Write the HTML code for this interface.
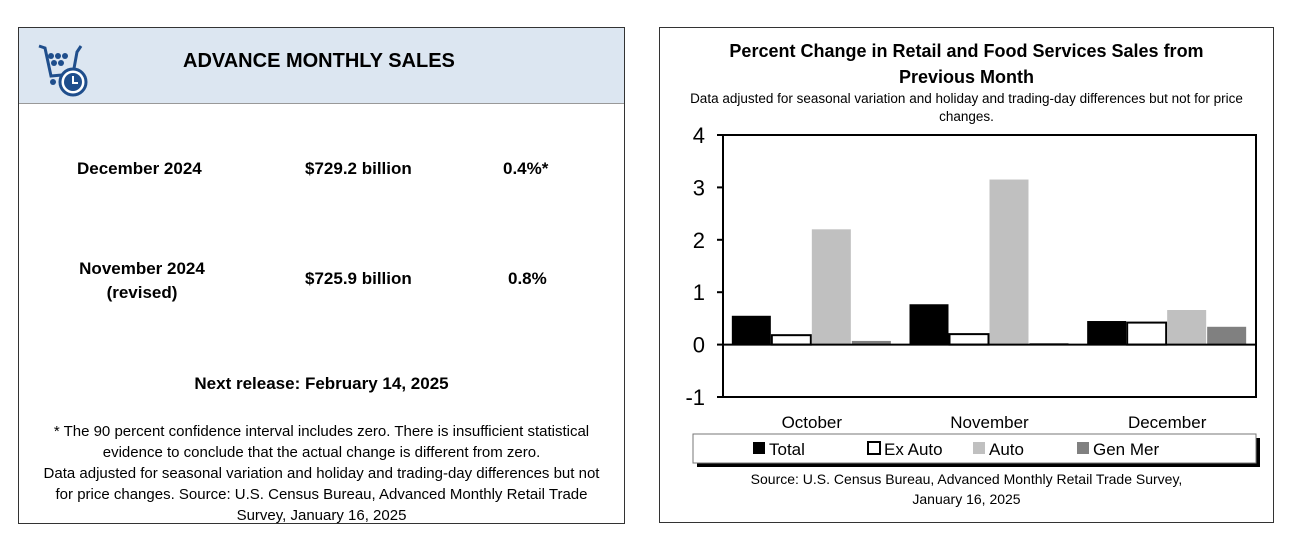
<!DOCTYPE html>
<html><head><meta charset="utf-8"><style>
body{margin:0;width:1292px;height:552px;background:#fff;font-family:"Liberation Sans",sans-serif;position:relative;overflow:hidden}
.abs{position:absolute}
.l{font-weight:bold;font-size:17px;color:#000}
.c{text-align:center}
</style></head><body>
<div class="abs" style="left:18px;top:27px;width:605px;height:495px;border:1.5px solid #333">
  <div style="position:absolute;left:0;top:0;width:605px;height:75px;background:#dce6f1;border-bottom:1.5px solid #999">
    <svg class="abs" style="left:18px;top:12px" width="52" height="58" viewBox="0 0 52 58">
      <path d="M2 6 L8 8 L14 36 L36 34 L40 12 L44 6" fill="none" stroke="#1f4e8c" stroke-width="3"/>
      <circle cx="14" cy="16" r="3" fill="#1f4e8c"/><circle cx="21" cy="16" r="3" fill="#1f4e8c"/><circle cx="28" cy="16" r="3" fill="#1f4e8c"/>
      <circle cx="17" cy="23" r="3" fill="#1f4e8c"/><circle cx="24" cy="23" r="3" fill="#1f4e8c"/>
      <circle cx="16" cy="42" r="3" fill="#1f4e8c"/>
      <circle cx="36" cy="42" r="13" fill="#fff" stroke="#1f4e8c" stroke-width="3"/>
      <circle cx="36" cy="42" r="9" fill="#1f4e8c"/>
      <path d="M36 36 V43 H41" stroke="#fff" stroke-width="2" fill="none"/>
    </svg>
    <div class="abs" style="left:164px;top:22px;font-weight:bold;font-size:20px">ADVANCE MONTHLY SALES</div>
  </div>
  <div class="abs l" style="left:58px;top:131px">December 2024</div>
  <div class="abs l" style="left:286px;top:131px">$729.2 billion</div>
  <div class="abs l" style="left:484px;top:131px">0.4%*</div>
  <div class="abs l c" style="left:48px;top:229px;width:150px;line-height:24px">November 2024<br>(revised)</div>
  <div class="abs l" style="left:286px;top:241px">$725.9 billion</div>
  <div class="abs l" style="left:489px;top:241px">0.8%</div>
  <div class="abs l c" style="left:0;width:605px;top:346px">Next release: February 14, 2025</div>
  <div class="abs c" style="left:15px;width:575px;top:393px;font-size:15px;line-height:21px">* The 90 percent confidence interval includes zero. There is insufficient statistical evidence to conclude that the actual change is different from zero.<br>Data adjusted for seasonal variation and holiday and trading-day differences but not for price changes. Source: U.S. Census Bureau, Advanced Monthly Retail Trade Survey, January 16, 2025</div>
</div>

<div class="abs" style="left:659px;top:27px;width:613px;height:494px;border:1.5px solid #333"></div>
<div class="abs c" style="left:659px;width:615px;top:38px;font-weight:bold;font-size:18px;line-height:26px">Percent Change in Retail and Food Services Sales from<br>Previous Month</div>
<div class="abs c" style="left:669px;width:595px;top:90px;font-size:13.5px;line-height:18px">Data adjusted for seasonal variation and holiday and trading-day differences but not for price changes.</div>
<div class="abs c" style="left:659px;width:615px;top:469px;font-size:14px;line-height:20px">Source: U.S. Census Bureau, Advanced Monthly Retail Trade Survey,<br>January 16, 2025</div>

<svg id="chart" class="abs" style="left:0;top:0" width="1292" height="552"></svg>
<script>
const categories=["October","November","December"];
const seriesNames=["Total","Ex Auto","Auto","Gen Mer"];
const total=[0.55,0.77,0.45];
const exAuto=[0.18,0.2,0.42];
const auto=[2.2,3.15,0.66];
const genMer=[0.07,0.03,0.34];
const yTicks=[-1,0,1,2,3,4];
const series=[total,exAuto,auto,genMer];
const fills=["#000","#fff","#c0c0c0","#808080"];
const svg=document.getElementById('chart');
const NS="http://www.w3.org/2000/svg";
const L=723,R=1256,T=135,B=397,ymin=-1,ymax=4;
const y=v=>T+(ymax-v)/(ymax-ymin)*(B-T);
const gw=(R-L)/categories.length;
function mk(tag,attrs){const e=document.createElementNS(NS,tag);for(const k in attrs)e.setAttribute(k,attrs[k]);svg.appendChild(e);return e;}
const frame=mk('rect',{x:L,y:T,width:R-L,height:B-T,fill:'none',stroke:'#000','stroke-width':2});


yTicks.forEach(t=>{
  const tk=mk('line',{x1:L-6,x2:L,y1:y(t),y2:y(t),stroke:'#000','stroke-width':2});
  
  
  const tx=mk('text',{x:L-18,y:y(t)+8,'text-anchor':'end','font-size':22,'font-family':'Liberation Sans, sans-serif'});
  tx.textContent=t;
  
  
});
const bw=40,pad=(gw-4*bw)/2;
categories.forEach((c,i)=>{
  series.forEach((s,j)=>{
    const v=s[i];const x=L+i*gw+pad+j*bw;
    const r=mk('rect',{x:x,y:Math.min(y(v),y(0)),width:bw-1,height:Math.abs(y(v)-y(0)),fill:fills[j],stroke:j==1?'#000':'none','stroke-width':2});
    
    
  });
  const tx=mk('text',{x:L+i*gw+gw/2,y:428,'text-anchor':'middle','font-size':17,'font-family':'Liberation Sans, sans-serif'});
  tx.textContent=c;
  
  
});
const zl=mk('line',{x1:L,x2:R,y1:y(0),y2:y(0),stroke:'#000','stroke-width':2});


const sh=mk('rect',{x:697,y:438,width:563,height:29,fill:'#000'});


const lg=mk('rect',{x:693,y:434,width:563,height:29,fill:'#fff',stroke:'#777','stroke-width':1});


const lx=[753,868,973,1077];
seriesNames.forEach((n,j)=>{
  const sw=mk('rect',{x:lx[j],y:442,width:12,height:12,fill:fills[j],stroke:j==1?'#000':'none','stroke-width':2});
  
  
  const t=mk('text',{x:lx[j]+16,y:455,'font-size':17,'font-family':'Liberation Sans, sans-serif'});
  t.textContent=n;
  
  
});
</script>
</body></html>
